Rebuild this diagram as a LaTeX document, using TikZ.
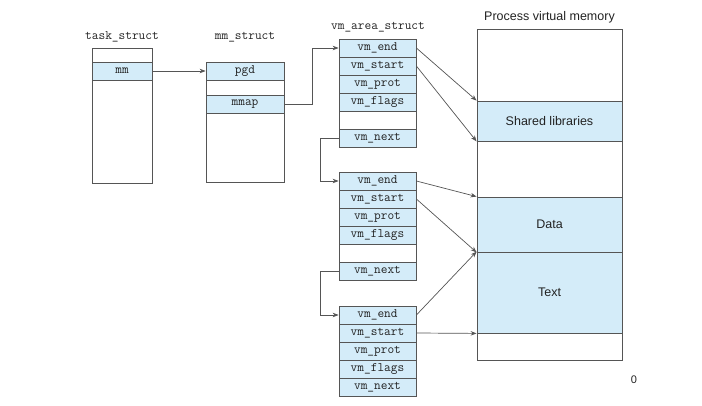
\documentclass[tikz,border=0pt]{standalone}
\usepackage{fontspec}
\newfontfamily\lsans{Liberation Sans}
\usetikzlibrary{arrows.meta}
\definecolor{lblue}{HTML}{D4ECF9}
\definecolor{bgray}{HTML}{555555}
\definecolor{tgray}{HTML}{222222}
\tikzset{
  box/.style={draw=bgray, line width=0.8pt, inner sep=0pt, fill=white},
  row/.style={draw=bgray, line width=0.8pt, inner sep=0pt, fill=lblue, minimum width=77pt, minimum height=18pt, font=\fontsize{13}{15}\selectfont\ttfamily, text=tgray},
  blank/.style={row, fill=white},
  lbl/.style={font=\fontsize{13}{15}\selectfont\ttfamily, text=tgray, inner sep=0pt},
  slbl/.style={font=\fontsize{12.5}{14}\selectfont\lsans, text=tgray, inner sep=0pt},
  seg/.style={draw=bgray, line width=0.8pt, inner sep=0pt, fill=lblue, minimum width=145pt, font=\fontsize{12.5}{14}\selectfont\lsans, text=tgray},
  conn/.style={draw=bgray, line width=0.7pt, -{Stealth[length=6pt,width=4.5pt]}}
}
\begin{document}
\begin{tikzpicture}[x=1pt,y=-1pt]
\useasboundingbox (0,0) rectangle (702,405);
% task_struct
\node[lbl] (tlbl) at (122,37) {task\_struct};
\node[box, minimum width=60pt, minimum height=135pt] (task) at (122,115.5) {};
\node[row, minimum width=60pt] (mm) at (122,71) {mm};
% mm_struct
\node[lbl] (mlbl) at (245,37) {mm\_struct};
\node[box, minimum width=78pt, minimum height=120pt] (mms) at (245,122) {};
\node[row, minimum width=78pt] (pgd) at (245,71) {pgd};
\node[row, minimum width=78pt] (mmap) at (245,104) {mmap};
% vm_area_struct 1
\node[lbl] (vlbl) at (378,27) {vm\_area\_struct};
\node[row] (e1) at (377.5,48) {vm\_end};
\node[row] (s1) at (377.5,66) {vm\_start};
\node[row] (p1) at (377.5,84) {vm\_prot};
\node[row] (f1) at (377.5,102) {vm\_flags};
\node[blank] (b1) at (377.5,120) {};
\node[row] (n1) at (377.5,138) {vm\_next};
% 2
\node[row] (e2) at (377.5,181) {vm\_end};
\node[row] (s2) at (377.5,199) {vm\_start};
\node[row] (p2) at (377.5,217) {vm\_prot};
\node[row] (f2) at (377.5,235) {vm\_flags};
\node[blank] (b2) at (377.5,253) {};
\node[row] (n2) at (377.5,271) {vm\_next};
% 3
\node[row] (e3) at (377.5,315) {vm\_end};
\node[row] (s3) at (377.5,333) {vm\_start};
\node[row] (p3) at (377.5,351) {vm\_prot};
\node[row] (f3) at (377.5,369) {vm\_flags};
\node[row] (n3) at (377.5,387) {vm\_next};
% process virtual memory
\node[slbl] (plbl) at (549.5,17) {Process virtual memory};
\node[box, minimum width=145pt, minimum height=331pt] (pvm) at (549.5,194.5) {};
\node[seg, minimum height=40pt] (shared) at (549.5,121) {Shared libraries};
\node[seg, minimum height=55pt] (data) at (549.5,224.5) {Data};
\node[seg, minimum height=81pt] (text) at (549.5,292.5) {Text};
\node[slbl, font=\fontsize{11}{13}\selectfont\lsans] (zero) at (634,380) {0};
% connectors
\draw[conn] (mm.east) -- (pgd.west);
\draw[conn] (mmap.east) -- ++(28,0) |- (e1.west);
\draw[conn] (n1.west) -- ++(-18,0) |- (e2.west);
\draw[conn] (n2.west) -- ++(-18,0) |- (e3.west);
\draw[conn] (e1.east) -- (shared.north west);
\draw[conn] (s1.east) -- (shared.south west);
\draw[conn] (e2.east) -- (data.north west);
\draw[conn] (s2.east) -- (data.south west);
\draw[conn] (e3.east) -- (text.north west);
\draw[conn] (s3.east) -- (text.south west);
\end{tikzpicture}
\end{document}
